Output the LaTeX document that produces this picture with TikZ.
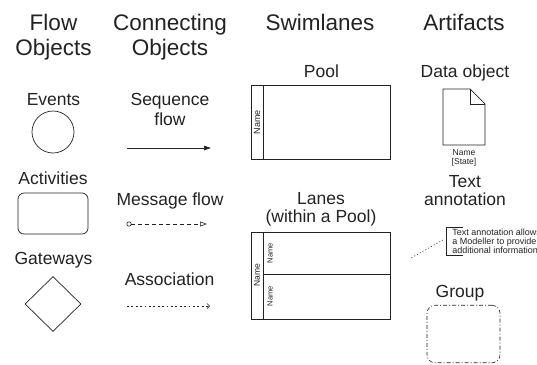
\documentclass[tikz,border=0pt]{standalone}
\usepackage{fontspec}
\setmainfont{Liberation Sans}
\usetikzlibrary{arrows.meta,shapes.geometric}
\definecolor{ink}{HTML}{222222}
\begin{document}
\begin{tikzpicture}[x=1pt,y=-1pt, line width=0.7pt, draw=ink, text=ink,
  head/.style={font=\fontsize{22.5}{25}\selectfont, align=center, anchor=base, inner sep=0pt},
  lbl/.style={font=\fontsize{17.5}{20}\selectfont, align=center, anchor=base, inner sep=0pt},
  small/.style={font=\fontsize{8.5}{9}\selectfont, inner sep=0pt},
  shapebox/.style={draw, inner sep=0pt, fill=none},
  seqline/.style={-{Triangle[length=7pt,width=4.5pt]}},
  msgline/.style={line width=0.6pt, dash pattern=on 4pt off 3pt, {Circle[open,length=5pt,width=5pt]}-{Triangle[open,length=7pt,width=5pt]}},
  assocline/.style={line width=0.6pt, dash pattern=on 1.8pt off 2.6pt, -{Straight Barb[length=2.5pt,width=5pt]}},
  groupbox/.style={draw, line width=0.6pt, dash pattern=on 4pt off 2pt on 1pt off 2pt, rounded corners=8pt, inner sep=0pt}
]
\useasboundingbox (0,0) rectangle (537,364);

% Headers (anchor=base is the baseline of the last line)
\node[head] (h1) at (53.5,55) {Flow\\Objects};
\node[head] (h2) at (170,55) {Connecting\\Objects};
\node[head] (h3) at (320,30) {Swimlanes};
\node[head] (h4) at (464,30) {Artifacts};

% Flow objects
\node[lbl] (levents) at (53.5,105) {Events};
\node[shapebox, circle, minimum size=42pt] (event) at (53,132) {};
\node[lbl] (lact) at (53,184) {Activities};
\node[shapebox, rounded corners=6pt, minimum width=70pt, minimum height=41pt] (act) at (53,213.5) {};
\node[lbl] (lgw) at (53.5,264) {Gateways};
\node[shapebox, diamond, minimum width=56pt, minimum height=55pt] (gw) at (53,304) {};

% Connecting objects
\node[lbl] (lseq) at (170,125) {Sequence\\flow};
\coordinate (s1) at (127,148);
\coordinate (s2) at (211,148);
\draw[seqline] (s1) -- (s2);
\node[lbl] (lmsg) at (170,205) {Message flow};
\coordinate (m1) at (126.5,224);
\coordinate (m2) at (207,224);
\draw[msgline] (m1) -- (m2);
\node[lbl] (lassoc) at (169.5,285) {Association};
\coordinate (a1) at (127,306);
\coordinate (a2) at (210,306);
\draw[assocline] (a1) -- (a2);

% Swimlanes
\node[lbl] (lpool) at (321.5,77) {Pool};
\node[shapebox, anchor=north west, minimum width=139pt, minimum height=74pt] (pool) at (251,85) {};
\draw ([xshift=12pt]pool.north west) -- ([xshift=12pt]pool.south west);
\node[small, font=\fontsize{9}{10}\selectfont, rotate=90] (pname) at (257,122) {Name};

\node[lbl, font=\fontsize{17.5}{18}\selectfont] (llanes) at (321,222) {Lanes\\(within a Pool)};
\node[shapebox, anchor=north west, minimum width=139pt, minimum height=87pt] (lanes) at (251,232) {};
\draw ([xshift=12pt]lanes.north west) -- ([xshift=12pt]lanes.south west);
\coordinate (sepL) at (263,274);
\coordinate (sepR) at (390,274);
\draw (sepL) -- (sepR);
\node[small, font=\fontsize{8.5}{10}\selectfont, rotate=90] (oname) at (257,275.5) {Name};
\node[small, font=\fontsize{7.5}{9}\selectfont, rotate=90] (lname1) at (270,253) {Name};
\node[small, font=\fontsize{7.5}{9}\selectfont, rotate=90] (lname2) at (270,296) {Name};

% Artifacts
\node[lbl] (ldata) at (465,77) {Data object};
\coordinate (d1) at (443,89);
\coordinate (d2) at (470,89);
\coordinate (d3) at (485,104);
\coordinate (d4) at (485,145);
\coordinate (d5) at (443,145);
\coordinate (df) at (470,104);
\draw (d1) -- (d2) -- (d3) -- (d4) -- (d5) -- cycle;
\draw (d2) -- (df) -- (d3);
\node[small, align=center, anchor=base] (dname) at (464,164) {Name\\{}[State]};

\node[lbl, font=\fontsize{17.5}{18}\selectfont] (lann) at (465,205) {Text\\annotation};
\coordinate (b1) at (463,227);
\coordinate (b2) at (446,227);
\coordinate (b3) at (446,255);
\coordinate (b4) at (463,255);
\draw (b1) -- (b2) -- (b3) -- (b4);
\begin{scope}
\clip (440,220) rectangle (537,262);
\node[small, font=\fontsize{9}{9}\selectfont, align=left, anchor=base west] (anntext) at (452,253) {Text annotation allows\\a Modeller to provide\\additional information};
\end{scope}
\coordinate (bm) at (443,240);
\coordinate (be) at (411,258);
\draw[line width=0.6pt, dash pattern=on 1pt off 2.2pt] (bm) -- (be);

\node[lbl] (lgroup) at (460,297) {Group};
\node[groupbox, minimum width=73pt, minimum height=57.5pt] (grp) at (463.5,334) {};
\end{tikzpicture}
\end{document}
